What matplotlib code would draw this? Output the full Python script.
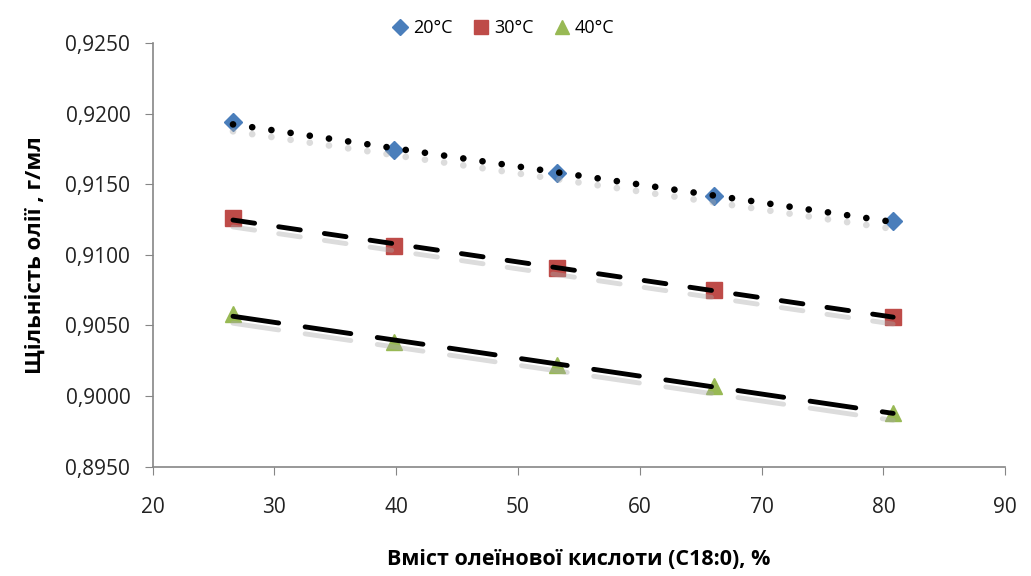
import numpy as np
import matplotlib.pyplot as plt
import matplotlib.patheffects as pe
from matplotlib.ticker import FuncFormatter

plt.rcParams['font.family'] = ['Open Sans', 'DejaVu Sans']

oleic = [26.6, 39.8, 53.2, 66.1, 80.8]
dens_20 = [0.9194, 0.9174, 0.9158, 0.9142, 0.9124]
dens_30 = [0.9126, 0.9106, 0.9091, 0.9075, 0.9056]
dens_40 = [0.9058, 0.9038, 0.9022, 0.9007, 0.8988]

# label, values, marker, colour, trend dash pattern, marker size, trend width
series = [
    ("20°C", dens_20, "D", "#4a7ebb", (0, (0.01, 2.9)), 9.5, 4.8),
    ("30°C", dens_30, "s", "#be4b48", (0, (4.5, 5.0)), 12, 3.5),
    ("40°C", dens_40, "^", "#98b954", (0, (9.5, 5.5)), 12, 3.5),
]

fig, ax = plt.subplots(figsize=(10.31, 5.76), dpi=100)
fig.subplots_adjust(left=0.148, right=0.975, top=0.925, bottom=0.19)

x = np.array(oleic)
xs = np.array([x[0], x[-1]])
shadow = [pe.SimpleLineShadow(offset=(0, -5), shadow_color="#a8a8a8", alpha=0.4), pe.Normal()]
for label, y, m, c, ls, ms, lw in series:
    ax.plot(x, y, linestyle="none", marker=m, color=c, markersize=ms, label=label, zorder=2)
    k, b = np.polyfit(x, y, 1)
    ax.plot(xs, k * xs + b, color="black", linestyle=ls, linewidth=lw,
            dash_capstyle="round", solid_capstyle="round", path_effects=shadow, zorder=3)

ax.set_xlim(20, 90)
ax.set_ylim(0.8950, 0.9250)
ax.set_xticks(range(20, 91, 10))
ax.set_yticks(np.arange(0.8950, 0.92501, 0.005))
ax.yaxis.set_major_formatter(FuncFormatter(lambda v, p: f"{v:.4f}".replace(".", ",")))

for s in ["top", "right"]:
    ax.spines[s].set_visible(False)
for s in ["left", "bottom"]:
    ax.spines[s].set_color("#868686")
    ax.spines[s].set_linewidth(1.2)
ax.tick_params(axis="both", direction="out", length=6, color="#868686", labelsize=15)
ax.tick_params(axis="x", pad=16)
ax.tick_params(axis="y", pad=10)
for t in ax.get_xticklabels() + ax.get_yticklabels():
    t.set_color("#222222")

ax.set_xlabel("Вміст олеїнової кислоти (C18:0), %", fontsize=15.5, fontweight="bold", labelpad=22)
ax.set_ylabel("Щільність олії , г/мл", fontsize=16, fontweight="bold", labelpad=14)

leg = ax.legend(loc="upper center", bbox_to_anchor=(0.41, 1.095), ncol=3, frameon=False,
                fontsize=13, handletextpad=0.1, columnspacing=1.0, handlelength=1.2,
                markerscale=0.85)

fig.savefig("out.png")
